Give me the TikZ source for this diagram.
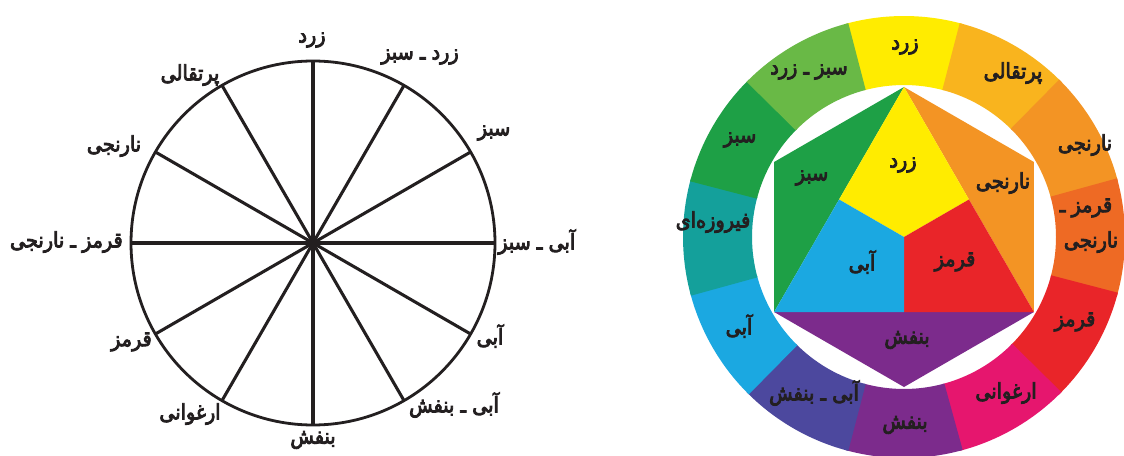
\documentclass[tikz,border=0pt]{standalone}
\usepackage{fontspec}
\usetikzlibrary{calc}
\newfontfamily\fa[Script=Arabic, FakeBold=4, FakeStretch=0.9]{DejaVu Sans}
\TeXXeTstate=1
\definecolor{ink}{HTML}{231F20}
\definecolor{cY}{RGB}{255,236,0}
\definecolor{cYO}{RGB}{249,180,30}
\definecolor{cO}{RGB}{243,148,36}
\definecolor{cRO}{RGB}{238,106,36}
\definecolor{cR}{RGB}{233,37,41}
\definecolor{cM}{RGB}{230,22,110}
\definecolor{cV}{RGB}{124,43,140}
\definecolor{cBV}{RGB}{76,72,158}
\definecolor{cB}{RGB}{27,168,225}
\definecolor{cT}{RGB}{20,160,155}
\definecolor{cG}{RGB}{30,160,70}
\definecolor{cYG}{RGB}{105,185,70}
\begin{document}
\begin{tikzpicture}[x=0.75pt,y=-0.75pt,
  lbl/.style={font=\fa\fontsize{16}{18}\selectfont, text=ink, inner sep=0pt},
  spoke/.style={line width=2.3pt, draw=ink},
  rim/.style={line width=2.1pt, draw=ink}]
\useasboundingbox (0,0) rectangle (1124,456);
\fill[white] (0,0) rectangle (1124,456);
% ---------- left wheel ----------
\begin{scope}[shift={(313,243)}, yscale=-1]
  \coordinate (L) at (0,0);
  \foreach \a in {0,30,...,150} \draw[spoke] (L) ++(\a:182) -- ++(\a+180:364);
  \draw[rim] (L) circle[radius=182];
\end{scope}
\node[lbl] (a1)  at (312,40)  {\beginR زرد\endR};
\node[lbl] (a2)  at (420,57)  {\beginR زرد ـ سبز\endR};
\node[lbl] (a3)  at (494,133) {\beginR سبز\endR};
\node[lbl, anchor=west] (a4)  at (498,242) {\beginR آبی ـ سبز\endR};
\node[lbl] (a5)  at (490,336) {\beginR آبی\endR};
\node[lbl] (a6)  at (454,405) {\beginR آبی ـ بنفش\endR};
\node[lbl] (a7)  at (313,440) {\beginR بنفش\endR};
\node[lbl] (a8)  at (190,414) {\beginR ارغوانی\endR};
\node[lbl, anchor=east] (a9)  at (152,342) {\beginR قرمز\endR};
\node[lbl, anchor=east] (a10) at (123,242)  {\beginR قرمز ـ نارنجی\endR};
\node[lbl] (a11) at (114,146) {\beginR نارنجی\endR};
\node[lbl] (a12) at (190,75)  {\beginR پرتقالی\endR};
% ---------- right wheel ----------
\begin{scope}
  \clip (0,0) rectangle (1124,456);
  \begin{scope}[shift={(904,237)}, yscale=-1]
    \coordinate (O) at (0,0);
    \foreach \a/\c in {90/cY, 60/cYO, 30/cO, 0/cRO, -30/cR, -60/cM, -90/cV, -120/cBV, -150/cB, 180/cT, 150/cG, 120/cYG}
      \fill[\c] (O) ++(\a-15.4:221) arc[start angle=\a-15.4, end angle=\a+15.4, radius=221]
        -- ++(\a+195.4:69) arc[start angle=\a+15.4, end angle=\a-15.4, radius=152] -- cycle;
    \coordinate (T)  at (90:150);
    \coordinate (UR) at (30:150);
    \coordinate (LR) at (-30:150);
    \coordinate (B)  at (-90:150);
    \coordinate (LL) at (210:150);
    \coordinate (UL) at (150:150);
    \coordinate (mL) at ($(T)!0.5!(LL)$);
    \coordinate (mR) at ($(T)!0.5!(LR)$);
    \coordinate (mB) at ($(LL)!0.5!(LR)$);
    \fill[cO] (T) -- (UR) -- (LR) -- cycle;
    \fill[cV] (LR) -- (B) -- (LL) -- cycle;
    \fill[cG] (LL) -- (UL) -- (T) -- cycle;
    \fill[cY] (T) -- (mR) -- (O) -- (mL) -- cycle;
    \fill[cR] (mR) -- (LR) -- (mB) -- (O) -- cycle;
    \fill[cB] (mL) -- (O) -- (mB) -- (LL) -- cycle;
  \end{scope}
\end{scope}
\node[lbl] (b1)  at (905,47)   {\beginR زرد\endR};
\node[lbl] (b2)  at (1013,73)  {\beginR پرتقالی\endR};
\node[lbl] (b3)  at (1085,145) {\beginR نارنجی\endR};
\node[lbl] (b4)  at (1086,208) {\beginR قرمز ـ\endR};
\node[lbl] (b4b) at (1091,242) {\beginR نارنجی\endR};
\node[lbl] (b5)  at (1075,322) {\beginR قرمز\endR};
\node[lbl] (b6)  at (1006,393) {\beginR ارغوانی\endR};
\node[lbl] (b7)  at (905,425)  {\beginR بنفش\endR};
\node[lbl] (b8)  at (814,393)  {\beginR آبی ـ بنفش\endR};
\node[lbl] (b9)  at (739,326)  {\beginR آبی\endR};
\node[lbl] (b10) at (713,222)  {\beginR فیروزه^^^^200cای\endR};
\node[lbl] (b11) at (740,140)  {\beginR سبز\endR};
\node[lbl] (b12) at (809,72)   {\beginR سبز ـ زرد\endR};
\node[lbl] (c1)  at (903,165)  {\beginR زرد\endR};
\node[lbl] (c2)  at (812,178)  {\beginR سبز\endR};
\node[lbl] (c3)  at (1003,183) {\beginR نارنجی\endR};
\node[lbl] (c4)  at (862,262)  {\beginR آبی\endR};
\node[lbl] (c5)  at (955,262)  {\beginR قرمز\endR};
\node[lbl] (c6)  at (907,340)  {\beginR بنفش\endR};
\end{tikzpicture}
\end{document}
